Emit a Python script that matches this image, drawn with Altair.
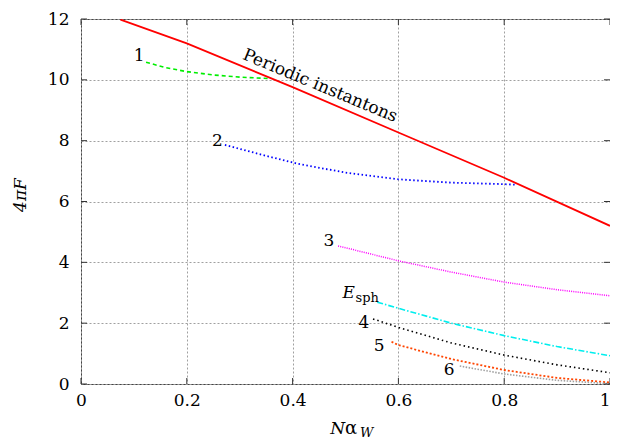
import altair as alt
import pandas as pd

# ---- data ----
periodic_x = [0.0746, 0.2, 0.4, 0.6, 0.8, 1.0]
periodic_y = [11.98, 11.2, 9.76, 8.27, 6.78, 5.2]

c1_x = [0.123, 0.16, 0.2, 0.25, 0.3, 0.357]
c1_y = [10.58, 10.4, 10.27, 10.16, 10.09, 10.04]

c2_x = [0.272, 0.35, 0.41, 0.5, 0.6, 0.7, 0.8, 0.823]
c2_y = [7.86, 7.5, 7.24, 6.95, 6.73, 6.62, 6.57, 6.55]

c3_x = [0.486, 0.6, 0.7, 0.8, 0.9, 1.0]
c3_y = [4.54, 4.05, 3.68, 3.35, 3.1, 2.9]

esph_x = [0.56, 0.6, 0.7, 0.8, 0.9, 1.0]
esph_y = [2.69, 2.49, 2.0, 1.59, 1.23, 0.93]

c4_x = [0.552, 0.6, 0.7, 0.8, 0.9, 1.0]
c4_y = [2.14, 1.86, 1.35, 0.95, 0.63, 0.37]

c5_x = [0.587, 0.6, 0.7, 0.8, 0.9, 1.0]
c5_y = [1.39, 1.28, 0.82, 0.46, 0.2, 0.05]

c6_x = [0.716, 0.8, 0.9, 1.0]
c6_y = [0.59, 0.33, 0.12, 0.01]

x_ticks = [0, 0.2, 0.4, 0.6, 0.8, 1.0]
y_ticks = [0, 2, 4, 6, 8, 10, 12]

labels = ["1", "2", "3", "4", "5", "6"]
label_x = [0.12, 0.268, 0.479, 0.545, 0.574, 0.706]
label_y = [10.8, 8.0, 4.71, 2.0, 1.26, 0.46]

FONT = "DejaVu Serif"
W, H = 529, 365

xs = alt.Scale(domain=[0, 1], nice=False, zero=False)
ys = alt.Scale(domain=[0, 12], nice=False, zero=False)

def curve(xv, yv, color, dash, width=1.6):
    df = pd.DataFrame({"x": xv, "y": yv})
    enc = dict(
        x=alt.X("x:Q", scale=xs, axis=alt.Axis(values=x_ticks, format="~g", title=None)),
        y=alt.Y("y:Q", scale=ys, axis=alt.Axis(values=y_ticks, format="~g", title=None)),
        order=alt.Order("x:Q"),
    )
    props = dict(color=color, strokeWidth=width, clip=True)
    if dash:
        props["strokeDash"] = dash
    return alt.Chart(df).mark_line(**props).encode(**enc)

layers = [
    curve(c1_x, c1_y, "#00ee00", [4, 3]),
    curve(c2_x, c2_y, "#0000ff", [1.5, 2.5], 1.8),
    curve(c3_x, c3_y, "#ff00ff", [1, 1.2], 1.5),
    curve(esph_x, esph_y, "#00eeee", [6, 2, 1.5, 2], 1.6),
    curve(c4_x, c4_y, "#000000", [1.5, 3], 1.6),
    curve(c5_x, c5_y, "#ff4500", [2, 2], 1.8),
    curve(c6_x, c6_y, "#a0a0a0", [1.5, 1.5], 1.6),
    curve(periodic_x, periodic_y, "#ff0000", None, 1.8),
]

# inward ticks
yt = pd.DataFrame({"v": y_ticks})
xt = pd.DataFrame({"v": x_ticks})
tick_color = "#333333"
layers += [
    alt.Chart(yt).mark_rule(color=tick_color, strokeWidth=1).encode(
        y=alt.Y("v:Q", scale=ys), x=alt.value(0), x2=alt.value(6)),
    alt.Chart(yt).mark_rule(color=tick_color, strokeWidth=1).encode(
        y=alt.Y("v:Q", scale=ys), x=alt.value(W - 6), x2=alt.value(W)),
    alt.Chart(xt).mark_rule(color=tick_color, strokeWidth=1).encode(
        x=alt.X("v:Q", scale=xs), y=alt.value(H - 6), y2=alt.value(H)),
    alt.Chart(xt).mark_rule(color=tick_color, strokeWidth=1).encode(
        x=alt.X("v:Q", scale=xs), y=alt.value(0), y2=alt.value(6)),
]

# curve labels
lab_df = pd.DataFrame({"t": labels, "x": label_x, "y": label_y})
layers.append(
    alt.Chart(lab_df).mark_text(font=FONT, fontSize=17, align="right", baseline="middle", color="black")
    .encode(x=alt.X("x:Q", scale=xs), y=alt.Y("y:Q", scale=ys), text="t:N")
)
# E_sph label
layers.append(
    alt.Chart(pd.DataFrame({"t": ["E"], "x": [0.518], "y": [2.83]}))
    .mark_text(font=FONT, fontSize=17, fontStyle="italic", align="right", baseline="alphabetic", color="black")
    .encode(x=alt.X("x:Q", scale=xs), y=alt.Y("y:Q", scale=ys), text="t:N")
)
layers.append(
    alt.Chart(pd.DataFrame({"t": ["sph"], "x": [0.519], "y": [2.70]}))
    .mark_text(font=FONT, fontSize=13, align="left", baseline="alphabetic", color="black")
    .encode(x=alt.X("x:Q", scale=xs), y=alt.Y("y:Q", scale=ys), text="t:N")
)
# Periodic instantons label
layers.append(
    alt.Chart(pd.DataFrame({"t": ["Periodic instantons"], "x": [0.452], "y": [9.8]}))
    .mark_text(font=FONT, fontSize=17, angle=22.5, align="center", baseline="middle", color="black")
    .encode(x=alt.X("x:Q", scale=xs), y=alt.Y("y:Q", scale=ys), text="t:N")
)

# axis titles (as text)
layers.append(
    alt.Chart(pd.DataFrame({"t": ["4πF"]}))
    .mark_text(font=FONT, fontSize=17, fontStyle="italic", angle=270, align="center", baseline="middle", color="black")
    .encode(x=alt.value(-60), y=alt.value(176), text="t:N")
)
layers.append(
    alt.Chart(pd.DataFrame({"t": ["N"]}))
    .mark_text(font=FONT, fontSize=17, fontStyle="italic", align="right", baseline="alphabetic", color="black")
    .encode(x=alt.value(264), y=alt.value(H + 50), text="t:N")
)
layers.append(
    alt.Chart(pd.DataFrame({"t": ["α"]}))
    .mark_text(font=FONT, fontSize=18, align="left", baseline="alphabetic", color="black")
    .encode(x=alt.value(264), y=alt.value(H + 50), text="t:N")
)
layers.append(
    alt.Chart(pd.DataFrame({"t": ["W"]}))
    .mark_text(font=FONT, fontSize=13, fontStyle="italic", align="left", baseline="alphabetic", color="black")
    .encode(x=alt.value(279), y=alt.value(H + 53), text="t:N")
)

chart = alt.layer(*layers).properties(
    width=W, height=H,
    autosize=alt.AutoSizeParams(type="none"),
    padding={"left": 73, "top": 11, "right": 0, "bottom": 56},
).configure_view(
    stroke="#444444", strokeWidth=1
).configure_axis(
    grid=True, gridColor="#a0a0a0", gridDash=[2, 2], gridWidth=1, gridOpacity=1,
    domain=False, ticks=False,
    labelFont=FONT, labelFontSize=17, labelColor="black",
).configure_axisX(
    labelPadding=8,
    labelAlign={"condition": {"test": "datum.value == 1", "value": "right"}, "value": "center"},
).configure_axisY(labelPadding=12)

chart.save("out.html", embed_options={"renderer": "svg", "actions": False})
